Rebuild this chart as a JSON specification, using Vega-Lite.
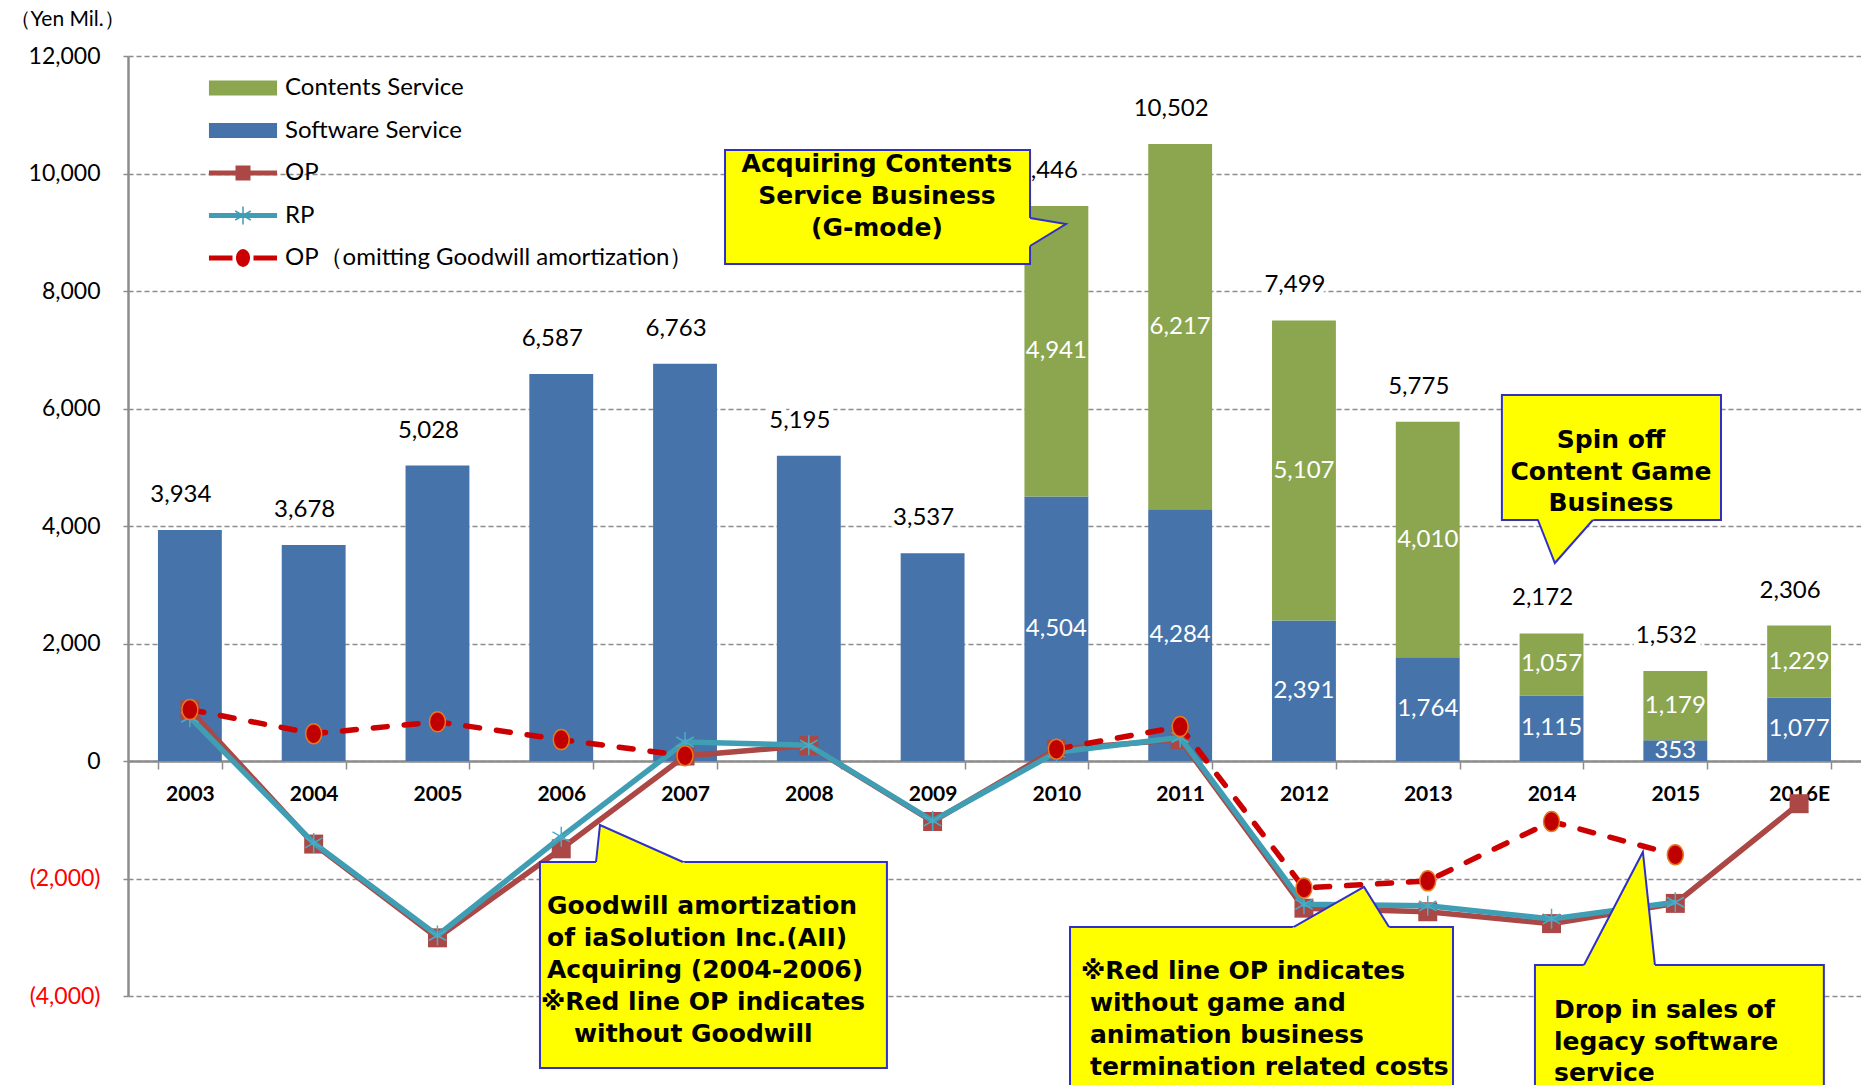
{
  "$schema": "https://vega.github.io/schema/vega-lite/v6.json",
  "width": 1733,
  "height": 940,
  "autosize": {"type": "none"},
  "padding": {"left": 128, "top": 56, "right": 0, "bottom": 89},
  "background": "white",
  "config": {"view": {"stroke": null}, "font": "Lato"},
  "datasets": {
    "sales": [
      {"year": "2003", "series": "Software Service", "value": 3934},
      {"year": "2004", "series": "Software Service", "value": 3678},
      {"year": "2005", "series": "Software Service", "value": 5028},
      {"year": "2006", "series": "Software Service", "value": 6587},
      {"year": "2007", "series": "Software Service", "value": 6763},
      {"year": "2008", "series": "Software Service", "value": 5195},
      {"year": "2009", "series": "Software Service", "value": 3537},
      {"year": "2010", "series": "Software Service", "value": 4504},
      {"year": "2010", "series": "Contents Service", "value": 4941},
      {"year": "2011", "series": "Software Service", "value": 4284},
      {"year": "2011", "series": "Contents Service", "value": 6217},
      {"year": "2012", "series": "Software Service", "value": 2391},
      {"year": "2012", "series": "Contents Service", "value": 5107},
      {"year": "2013", "series": "Software Service", "value": 1764},
      {"year": "2013", "series": "Contents Service", "value": 4010},
      {"year": "2014", "series": "Software Service", "value": 1115},
      {"year": "2014", "series": "Contents Service", "value": 1057},
      {"year": "2015", "series": "Software Service", "value": 353},
      {"year": "2015", "series": "Contents Service", "value": 1179},
      {"year": "2016E", "series": "Software Service", "value": 1077},
      {"year": "2016E", "series": "Contents Service", "value": 1229}
    ],
    "totals": [
      {"year": "2003", "total": 3934},
      {"year": "2004", "total": 3678},
      {"year": "2005", "total": 5028},
      {"year": "2006", "total": 6587},
      {"year": "2007", "total": 6763},
      {"year": "2008", "total": 5195},
      {"year": "2009", "total": 3537},
      {"year": "2010", "total": 9446},
      {"year": "2011", "total": 10502},
      {"year": "2012", "total": 7499},
      {"year": "2013", "total": 5775},
      {"year": "2014", "total": 2172},
      {"year": "2015", "total": 1532},
      {"year": "2016E", "total": 2306}
    ],
    "profit": [
      {"year": "2003", "OP": 870, "RP": 745, "OPadj": 875},
      {"year": "2004", "OP": -1414, "RP": -1395, "OPadj": 465},
      {"year": "2005", "OP": -3010, "RP": -2970, "OPadj": 667},
      {"year": "2006", "OP": -1495, "RP": -1290, "OPadj": 364},
      {"year": "2007", "OP": 85, "RP": 323, "OPadj": 90},
      {"year": "2008", "OP": 263, "RP": 270, "OPadj": null},
      {"year": "2009", "OP": -1030, "RP": -1020, "OPadj": null},
      {"year": "2010", "OP": 202, "RP": 150, "OPadj": 202},
      {"year": "2011", "OP": 364, "RP": 400, "OPadj": 586},
      {"year": "2012", "OP": -2505, "RP": -2440, "OPadj": -2162},
      {"year": "2013", "OP": -2566, "RP": -2465, "OPadj": -2040},
      {"year": "2014", "OP": -2768, "RP": -2687, "OPadj": -1030},
      {"year": "2015", "OP": -2424, "RP": -2404, "OPadj": -1596},
      {"year": "2016E", "OP": -727, "RP": null, "OPadj": null}
    ],
    "boxes": [
      {"id": "A", "x": 4.823, "x2": 7.287, "y": 10400, "y2": 8460},
      {"id": "B", "x": 11.099, "x2": 12.869, "y": 6230, "y2": 4102},
      {"id": "C", "x": 3.328, "x2": 6.131, "y": -1719, "y2": -5225},
      {"id": "D", "x": 7.61, "x2": 10.704, "y": -2825, "y2": -5770},
      {"id": "E", "x": 11.366, "x2": 13.7, "y": -3472, "y2": -5770}
    ],
    "ptrV": [
      {"id": "A", "x": 7.263, "y": 9252, "y2": 8735},
      {"id": "A", "x": 7.577, "y": 9140, "y2": 9140}
    ],
    "ptrH": [
      {"id": "B", "y": 4162, "x": 11.385, "x2": 11.86},
      {"id": "B", "y": 3370, "x": 11.527, "x2": 11.527},
      {"id": "C", "y": -1779, "x": 3.778, "x2": 4.547},
      {"id": "C", "y": -1089, "x": 3.813, "x2": 3.813},
      {"id": "D", "y": -2885, "x": 9.369, "x2": 10.205},
      {"id": "D", "y": -2144, "x": 9.985, "x2": 9.985},
      {"id": "E", "y": -3532, "x": 11.747, "x2": 12.338},
      {"id": "E", "y": -1549, "x": 12.238, "x2": 12.238}
    ],
    "outlines": [
      {"id": "A", "k": 0, "x": 7.287, "y": 9243},
      {"id": "A", "k": 1, "x": 7.577, "y": 9140},
      {"id": "A", "k": 2, "x": 7.287, "y": 8766},
      {"id": "B", "k": 0, "x": 11.39, "y": 4102},
      {"id": "B", "k": 1, "x": 11.527, "y": 3370},
      {"id": "B", "k": 2, "x": 11.834, "y": 4102},
      {"id": "C", "k": 0, "x": 3.781, "y": -1719},
      {"id": "C", "k": 1, "x": 3.813, "y": -1089},
      {"id": "C", "k": 2, "x": 4.483, "y": -1719},
      {"id": "D", "k": 0, "x": 9.419, "y": -2825},
      {"id": "D", "k": 1, "x": 9.985, "y": -2144},
      {"id": "D", "k": 2, "x": 10.187, "y": -2825},
      {"id": "E", "k": 0, "x": 11.762, "y": -3472},
      {"id": "E", "k": 1, "x": 12.238, "y": -1549},
      {"id": "E", "k": 2, "x": 12.335, "y": -3472}
    ],
    "notes": [
      {"id": "A", "x": 6.05, "y": 10162, "text": "Acquiring Contents"},
      {"id": "A", "x": 6.05, "y": 9617, "text": "Service Business"},
      {"id": "A", "x": 6.05, "y": 9072, "text": "(G-mode)"},
      {"id": "B", "x": 11.98, "y": 5464, "text": "Spin off"},
      {"id": "B", "x": 11.98, "y": 4919, "text": "Content Game"},
      {"id": "B", "x": 11.98, "y": 4392, "text": "Business"},
      {"id": "C", "x": 3.385, "y": -2468, "text": "Goodwill amortization"},
      {"id": "C", "x": 3.385, "y": -3013, "text": "of iaSolution Inc.(AII)"},
      {"id": "C", "x": 3.385, "y": -3557, "text": "Acquiring (2004-2006)"},
      {"id": "C", "x": 3.336, "y": -4102, "text": "※Red line OP indicates"},
      {"id": "C", "x": 3.603, "y": -4647, "text": "without Goodwill"},
      {"id": "D", "x": 7.698, "y": -3574, "text": "※Red line OP indicates"},
      {"id": "D", "x": 7.771, "y": -4119, "text": "without game and"},
      {"id": "D", "x": 7.771, "y": -4664, "text": "animation business"},
      {"id": "D", "x": 7.771, "y": -5208, "text": "termination related costs"},
      {"id": "E", "x": 11.52, "y": -4238, "text": "Drop in sales of"},
      {"id": "E", "x": 11.52, "y": -4783, "text": "legacy software"},
      {"id": "E", "x": 11.52, "y": -5310, "text": "service"}
    ]
  },
  "layer": [
    {
      "layer": [
        {
          "data": {"name": "sales"},
          "mark": {"type": "bar"},
          "encoding": {
            "x": {
              "field": "year", "type": "ordinal",
              "scale": {"domain": ["2003","2004","2005","2006","2007","2008","2009","2010","2011","2012","2013","2014","2015","2016E"], "paddingInner": 0.484, "paddingOuter": 0.242},
              "axis": {"title": null, "orient": "bottom", "offset": -235, "labelAngle": 0, "labelFont": "Lato", "labelFontWeight": "bold", "labelFontSize": 21, "labelColor": "#000000", "labelPadding": 14, "tickSize": 8, "tickBand": "extent", "tickColor": "#8c8c8c", "tickWidth": 1.5, "domainColor": "#8c8c8c", "domainWidth": 2.5, "grid": false}
            },
            "y": {
              "field": "value", "type": "quantitative", "stack": "zero",
              "scale": {"domain": [-4000, 12000], "nice": false, "zero": false},
              "axis": {
                "values": [-4000, -2000, 0, 2000, 4000, 6000, 8000, 10000, 12000],
                "title": "（Yen Mil.）", "titleAngle": 0, "titleAlign": "left", "titleBaseline": "middle", "titleX": -119, "titleY": -37,
                "titleFont": "Lato", "titleFontSize": 21, "titleFontWeight": "normal", "titleColor": "#000000",
                "labelExpr": "datum.value < 0 ? '(' + format(-datum.value, ',') + ')' : format(datum.value, ',')",
                "labelFont": "Lato", "labelFontSize": 23,
                "labelColor": {"condition": {"test": "datum.value < 0", "value": "#ff0000"}, "value": "#000000"},
                "labelPadding": 20, "tickSize": 8, "tickColor": "#8c8c8c", "tickDash": [5, 3], "tickWidth": 1.5,
                "domainColor": "#8c8c8c", "domainWidth": 2.5,
                "grid": true, "gridColor": "#8c8c8c", "gridDash": [5, 3], "gridWidth": 1.5
              }
            },
            "color": {
              "field": "series", "type": "nominal",
              "scale": {"domain": ["Contents Service", "Software Service", "OP", "RP", "OP（omitting Goodwill amortization）"], "range": ["#8ba64e", "#4673a9", "#ab4845", "#3f9db4", "#cc0000"]},
              "legend": {
                "orient": "none", "legendX": 99, "legendY": 16, "direction": "vertical", "title": null, "padding": 0,
                "symbolSize": 900, "symbolStrokeWidth": 1.5, "rowPadding": 14.5, "labelOffset": 26, "symbolOffset": 0,
                "labelFont": "Lato", "labelFontSize": 24, "labelColor": "#000000", "labelLimit": 0, "labelBaseline": "middle",
                "encode": {
                  "symbols": {
                    "update": {
                      "shape": {"signal": "datum.value === 'OP' ? 'M-2.22,-0.12H2.22V0.12H-2.22ZM-0.45,-0.45H0.45V0.45H-0.45Z' : datum.value === 'RP' ? 'M-2.22,-0.12H2.22V0.12H-2.22ZM0,-0.6V0.6M-0.52,-0.3L0.52,0.3M-0.52,0.3L0.52,-0.3' : indexof(['Contents Service','Software Service'], datum.value) >= 0 ? 'M-2.22,-0.45H2.22V0.45H-2.22Z' : 'M-2.22,-0.12H-0.75V0.12H-2.22ZM0.75,-0.12H2.22V0.12H0.75ZM-0.42,0A0.42,0.55 0 1,0 0.42,0A0.42,0.55 0 1,0 -0.42,0Z'"},
                      "fill": {"scale": "color", "field": "value"},
                      "stroke": {"scale": "color", "field": "value"},
                      "opacity": {"value": 1}
                    }
                  }
                }
              }
            },
            "order": {"field": "series", "type": "nominal", "sort": "descending"}
          }
        },
        {
          "data": {"name": "totals"},
          "mark": {"type": "text", "font": "Lato", "fontSize": 24, "color": "#ffffff", "stroke": "#ffffff", "strokeWidth": 10, "dx": -9, "dy": -35, "baseline": "middle"},
          "encoding": {
            "x": {"field": "year", "type": "ordinal"},
            "y": {"field": "total", "type": "quantitative", "scale": {"domain": [-4000, 12000], "nice": false, "zero": false}},
            "text": {"field": "total", "type": "quantitative", "format": ","}
          }
        },
        {
          "data": {"name": "totals"},
          "mark": {"type": "text", "font": "Lato", "fontSize": 24, "color": "#000000", "dx": -9, "dy": -35, "baseline": "middle"},
          "encoding": {
            "x": {"field": "year", "type": "ordinal"},
            "y": {"field": "total", "type": "quantitative", "scale": {"domain": [-4000, 12000], "nice": false, "zero": false}},
            "text": {"field": "total", "type": "quantitative", "format": ","}
          }
        },
        {
          "data": {"name": "sales"},
          "transform": [
            {"filter": "datum.year >= '2010'"},
            {"stack": "value", "groupby": ["year"], "sort": [{"field": "series", "order": "descending"}], "as": ["v0", "v1"]},
            {"fold": ["v0", "v1"], "as": ["k", "yy"]},
            {"aggregate": [{"op": "mean", "field": "yy", "as": "mid"}], "groupby": ["year", "series", "value"]}
          ],
          "mark": {"type": "text", "font": "Lato", "fontSize": 24, "color": "#ffffff", "baseline": "middle"},
          "encoding": {
            "x": {"field": "year", "type": "ordinal"},
            "y": {"field": "mid", "type": "quantitative", "scale": {"domain": [-4000, 12000], "nice": false, "zero": false}},
            "text": {"field": "value", "type": "quantitative", "format": ","}
          }
        },
        {
          "data": {"name": "profit"},
          "mark": {"type": "line", "color": "#ab4845", "strokeWidth": 5.5},
          "encoding": {
            "x": {"field": "year", "type": "ordinal"},
            "y": {"field": "OP", "type": "quantitative", "scale": {"domain": [-4000, 12000], "nice": false, "zero": false}}
          }
        },
        {
          "data": {"name": "profit"},
          "mark": {"type": "point", "shape": "square", "filled": true, "color": "#ab4845", "size": 360, "opacity": 1},
          "encoding": {
            "x": {"field": "year", "type": "ordinal"},
            "y": {"field": "OP", "type": "quantitative", "scale": {"domain": [-4000, 12000], "nice": false, "zero": false}}
          }
        },
        {
          "data": {"name": "profit"},
          "mark": {"type": "line", "color": "#3f9db4", "strokeWidth": 5.5},
          "encoding": {
            "x": {"field": "year", "type": "ordinal"},
            "y": {"field": "RP", "type": "quantitative", "scale": {"domain": [-4000, 12000], "nice": false, "zero": false}}
          }
        },
        {
          "data": {"name": "profit"},
          "mark": {"type": "point", "shape": "M0,-1V1M-0.87,-0.5L0.87,0.5M-0.87,0.5L0.87,-0.5", "filled": false, "stroke": "#4bacc6", "strokeWidth": 1.5, "size": 400, "opacity": 1},
          "encoding": {
            "x": {"field": "year", "type": "ordinal"},
            "y": {"field": "RP", "type": "quantitative", "scale": {"domain": [-4000, 12000], "nice": false, "zero": false}}
          }
        },
        {
          "data": {"name": "profit"},
          "mark": {"type": "line", "color": "#cc0000", "strokeWidth": 5.5, "strokeDash": [14, 17], "strokeCap": "round", "invalid": "break-paths-filter-domains"},
          "encoding": {
            "x": {"field": "year", "type": "ordinal"},
            "y": {"field": "OPadj", "type": "quantitative", "scale": {"domain": [-4000, 12000], "nice": false, "zero": false}}
          }
        },
        {
          "data": {"name": "profit"},
          "mark": {"type": "point", "shape": "M-0.8,0A0.8,1 0 1,0 0.8,0A0.8,1 0 1,0 -0.8,0Z", "filled": true, "fill": "#c00000", "stroke": "#e8781e", "strokeWidth": 1.5, "size": 400, "opacity": 1},
          "encoding": {
            "x": {"field": "year", "type": "ordinal"},
            "y": {"field": "OPadj", "type": "quantitative", "scale": {"domain": [-4000, 12000], "nice": false, "zero": false}}
          }
        }
      ]
    },
    {
      "layer": [
        {
          "data": {"name": "boxes"},
          "mark": {"type": "rect", "fill": "#ffff00", "stroke": "#3030c8", "strokeWidth": 2},
          "encoding": {
            "x": {"field": "x", "type": "quantitative", "scale": {"domain": [0, 14], "nice": false, "zero": false}, "axis": null},
            "x2": {"field": "x2"},
            "y": {"field": "y", "type": "quantitative", "scale": {"domain": [-4000, 12000], "nice": false, "zero": false}},
            "y2": {"field": "y2"}
          }
        },
        {
          "data": {"name": "ptrV"},
          "mark": {"type": "area", "orient": "vertical", "fill": "#ffff00", "opacity": 1},
          "encoding": {
            "x": {"field": "x", "type": "quantitative", "scale": {"domain": [0, 14], "nice": false, "zero": false}, "axis": null},
            "y": {"field": "y", "type": "quantitative", "stack": null, "scale": {"domain": [-4000, 12000], "nice": false, "zero": false}},
            "y2": {"field": "y2"},
            "detail": {"field": "id"}
          }
        },
        {
          "data": {"name": "ptrH"},
          "mark": {"type": "area", "orient": "horizontal", "fill": "#ffff00", "opacity": 1},
          "encoding": {
            "y": {"field": "y", "type": "quantitative", "scale": {"domain": [-4000, 12000], "nice": false, "zero": false}},
            "x": {"field": "x", "type": "quantitative", "stack": null, "scale": {"domain": [0, 14], "nice": false, "zero": false}, "axis": null},
            "x2": {"field": "x2"},
            "detail": {"field": "id"}
          }
        },
        {
          "data": {"name": "outlines"},
          "mark": {"type": "line", "color": "#3030c8", "strokeWidth": 2},
          "encoding": {
            "x": {"field": "x", "type": "quantitative", "scale": {"domain": [0, 14], "nice": false, "zero": false}, "axis": null},
            "y": {"field": "y", "type": "quantitative", "scale": {"domain": [-4000, 12000], "nice": false, "zero": false}},
            "detail": {"field": "id"},
            "order": {"field": "k", "type": "quantitative"}
          }
        },
        {
          "data": {"name": "notes"},
          "transform": [{"filter": "datum.id === 'A' || datum.id === 'B'"}],
          "mark": {"type": "text", "font": "DejaVu Sans", "fontWeight": "bold", "fontSize": 25, "color": "#000000", "align": "center", "baseline": "middle"},
          "encoding": {
            "x": {"field": "x", "type": "quantitative", "scale": {"domain": [0, 14], "nice": false, "zero": false}, "axis": null},
            "y": {"field": "y", "type": "quantitative", "scale": {"domain": [-4000, 12000], "nice": false, "zero": false}},
            "text": {"field": "text", "type": "nominal"}
          }
        },
        {
          "data": {"name": "notes"},
          "transform": [{"filter": "datum.id !== 'A' && datum.id !== 'B'"}],
          "mark": {"type": "text", "font": "DejaVu Sans", "fontWeight": "bold", "fontSize": 25, "color": "#000000", "align": "left", "baseline": "middle"},
          "encoding": {
            "x": {"field": "x", "type": "quantitative", "scale": {"domain": [0, 14], "nice": false, "zero": false}, "axis": null},
            "y": {"field": "y", "type": "quantitative", "scale": {"domain": [-4000, 12000], "nice": false, "zero": false}},
            "text": {"field": "text", "type": "nominal"}
          }
        }
      ]
    }
  ],
  "resolve": {"scale": {"x": "independent"}}
}
